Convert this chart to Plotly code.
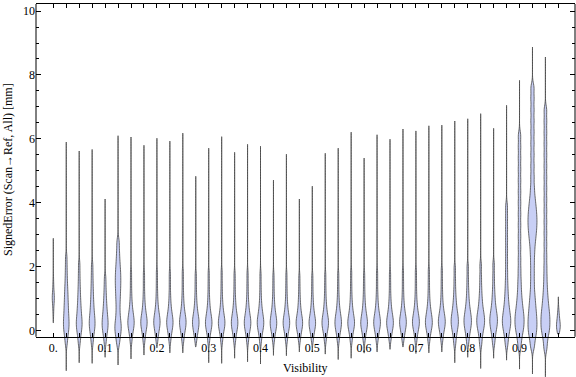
import plotly.graph_objects as go

# Visibility bins (category positions)
visibility = [0.0, 0.025, 0.05, 0.075, 0.1, 0.125, 0.15, 0.175, 0.2, 0.225,
              0.25, 0.275, 0.3, 0.325, 0.35, 0.375, 0.4, 0.425, 0.45, 0.475,
              0.5, 0.525, 0.55, 0.575, 0.6, 0.625, 0.65, 0.675, 0.7, 0.725,
              0.75, 0.775, 0.8, 0.825, 0.85, 0.875, 0.9, 0.925, 0.95, 0.975]

x_tick_vals = [0.0, 0.1, 0.2, 0.3, 0.4, 0.5, 0.6, 0.7, 0.8, 0.9]
x_tick_text = ["0.", "0.1", "0.2", "0.3", "0.4", "0.5", "0.6", "0.7", "0.8", "0.9"]
y_tick_vals = [0, 2, 4, 6, 8, 10]

# Smallest / largest signed error per bin [mm] (violin tips)
err_min = [0.25, -1.25, -1.0, -1.02, -0.83, -1.07, -0.88, -0.76, -0.53, -0.69,
           -0.69, -0.5, -1.0, -1.02, -0.86, -0.97, -1.04, -0.77, -0.78, -0.66,
           -0.66, -0.73, -0.9, -0.86, -0.7, -0.66, -0.58, -0.5, -0.71, -0.69,
           -0.66, -1.0, -0.83, -1.18, -0.86, -0.92, -1.2, -1.35, -1.44, -0.1]
err_max = [2.89, 5.9, 5.62, 5.67, 4.12, 6.1, 6.06, 5.8, 6.02, 5.93,
           6.18, 4.83, 5.71, 6.07, 5.58, 5.83, 5.77, 4.71, 5.52, 4.12,
           4.52, 5.55, 5.71, 6.21, 5.4, 6.13, 5.99, 6.31, 6.25, 6.41,
           6.43, 6.56, 6.63, 6.79, 6.33, 7.05, 7.83, 8.87, 8.56, 1.06]

# Relative sample count per bin (sets violin width)
rel_count = [0.22, 0.6, 0.62, 0.62, 0.64, 0.68, 0.68, 0.68, 0.68, 0.68,
             0.7, 0.7, 0.7, 0.7, 0.7, 0.7, 0.7, 0.7, 0.7, 0.7,
             0.7, 0.7, 0.7, 0.72, 0.72, 0.72, 0.72, 0.72, 0.74, 0.74,
             0.74, 0.78, 0.8, 0.84, 0.82, 0.9, 0.98, 0.96, 0.96, 0.4]

# Body of each distribution (quantile sketch) [mm]
v00 = [0.5, 0.72, 0.86, 0.95, 1.01, 1.06, 1.12, 1.22, 1.38, 1.6]
v01 = [-0.4, -0.2, -0.07, 0.03, 0.12, 0.2, 0.28, 0.37, 0.46, 0.56, 0.67, 0.78, 0.9, 1.03, 1.17, 1.32, 1.5, 1.72, 1.98, 2.28]
v02 = [-0.4, -0.2, -0.07, 0.03, 0.11, 0.18, 0.25, 0.32, 0.4, 0.49, 0.59, 0.7, 0.82, 0.96, 1.12, 1.3, 1.52, 1.78, 2.08]
v03 = [-0.4, -0.2, -0.07, 0.03, 0.11, 0.18, 0.25, 0.32, 0.4, 0.48, 0.58, 0.69, 0.81, 0.95, 1.11, 1.29, 1.5, 1.75, 2.04]
v04 = [-0.38, -0.19, -0.06, 0.03, 0.11, 0.18, 0.25, 0.32, 0.4, 0.49, 0.59, 0.7, 0.83, 0.98, 1.16, 1.38, 1.65]
v05 = [-0.4, -0.2, -0.06, 0.05, 0.15, 0.26, 0.4, 0.57, 0.76, 0.94, 1.1, 1.25, 1.39, 1.52, 1.65, 1.78, 1.92, 2.08, 2.27, 2.5, 2.78]
v06 = [-0.36, -0.18, -0.06, 0.03, 0.1, 0.16, 0.21, 0.26, 0.31, 0.37, 0.43, 0.5, 0.58, 0.68, 0.81, 0.98, 1.21, 1.5, 1.82]
v07 = [-0.35, -0.18, -0.06, 0.03, 0.1, 0.16, 0.21, 0.26, 0.31, 0.36, 0.42, 0.49, 0.57, 0.67, 0.8, 0.97, 1.2, 1.5, 1.8]
v08 = [-0.32, -0.16, -0.05, 0.04, 0.11, 0.17, 0.22, 0.27, 0.32, 0.37, 0.43, 0.5, 0.58, 0.68, 0.81, 0.98, 1.21, 1.5, 1.82]
v09 = [-0.34, -0.17, -0.06, 0.03, 0.1, 0.16, 0.21, 0.26, 0.31, 0.36, 0.42, 0.49, 0.57, 0.67, 0.8, 0.97, 1.2, 1.5, 1.8]
v10 = [-0.34, -0.17, -0.06, 0.03, 0.1, 0.16, 0.21, 0.26, 0.31, 0.36, 0.42, 0.49, 0.57, 0.67, 0.8, 0.97, 1.2, 1.5, 1.82]
v11 = [-0.3, -0.15, -0.05, 0.03, 0.1, 0.16, 0.21, 0.26, 0.31, 0.36, 0.42, 0.49, 0.57, 0.67, 0.8, 0.96, 1.18, 1.45, 1.75]
v12 = [-0.36, -0.18, -0.06, 0.03, 0.1, 0.15, 0.2, 0.25, 0.3, 0.35, 0.41, 0.48, 0.56, 0.66, 0.79, 0.96, 1.19, 1.48, 1.8]
v13 = [-0.36, -0.18, -0.06, 0.03, 0.1, 0.15, 0.2, 0.25, 0.3, 0.35, 0.41, 0.48, 0.56, 0.66, 0.79, 0.96, 1.19, 1.48, 1.82]
v14 = [-0.35, -0.18, -0.06, 0.02, 0.09, 0.15, 0.2, 0.25, 0.3, 0.35, 0.41, 0.48, 0.56, 0.66, 0.79, 0.95, 1.17, 1.45, 1.76]
v15 = [-0.36, -0.18, -0.06, 0.02, 0.09, 0.15, 0.2, 0.25, 0.3, 0.35, 0.41, 0.48, 0.56, 0.66, 0.79, 0.95, 1.18, 1.46, 1.78]
v16 = [-0.36, -0.18, -0.06, 0.02, 0.09, 0.15, 0.2, 0.25, 0.3, 0.35, 0.41, 0.48, 0.56, 0.65, 0.78, 0.94, 1.16, 1.44, 1.76]
v17 = [-0.33, -0.17, -0.05, 0.03, 0.1, 0.15, 0.2, 0.25, 0.3, 0.35, 0.41, 0.48, 0.56, 0.65, 0.78, 0.94, 1.15, 1.42, 1.72]
v18 = [-0.33, -0.17, -0.05, 0.03, 0.1, 0.15, 0.2, 0.25, 0.3, 0.35, 0.4, 0.47, 0.55, 0.65, 0.77, 0.93, 1.15, 1.42, 1.74]
v19 = [-0.31, -0.16, -0.05, 0.03, 0.1, 0.15, 0.2, 0.24, 0.29, 0.34, 0.4, 0.46, 0.54, 0.64, 0.76, 0.92, 1.12, 1.38, 1.68]
v20 = [-0.31, -0.16, -0.05, 0.03, 0.1, 0.15, 0.2, 0.24, 0.29, 0.34, 0.4, 0.46, 0.54, 0.64, 0.76, 0.92, 1.13, 1.4, 1.7]
v21 = [-0.33, -0.17, -0.05, 0.03, 0.1, 0.15, 0.2, 0.25, 0.3, 0.35, 0.4, 0.47, 0.55, 0.65, 0.77, 0.93, 1.15, 1.42, 1.74]
v22 = [-0.35, -0.18, -0.06, 0.02, 0.09, 0.15, 0.2, 0.25, 0.3, 0.35, 0.41, 0.48, 0.56, 0.65, 0.78, 0.94, 1.16, 1.44, 1.76]
v23 = [-0.35, -0.18, -0.06, 0.03, 0.1, 0.15, 0.2, 0.25, 0.3, 0.35, 0.41, 0.48, 0.56, 0.66, 0.79, 0.96, 1.19, 1.48, 1.82]
v24 = [-0.33, -0.17, -0.05, 0.03, 0.1, 0.15, 0.2, 0.25, 0.3, 0.35, 0.41, 0.48, 0.56, 0.66, 0.79, 0.95, 1.17, 1.45, 1.76]
v25 = [-0.32, -0.16, -0.05, 0.04, 0.11, 0.16, 0.21, 0.26, 0.31, 0.36, 0.42, 0.49, 0.57, 0.67, 0.8, 0.97, 1.2, 1.5, 1.82]
v26 = [-0.3, -0.15, -0.04, 0.04, 0.11, 0.16, 0.21, 0.26, 0.31, 0.36, 0.42, 0.49, 0.57, 0.67, 0.8, 0.97, 1.2, 1.49, 1.8]
v27 = [-0.29, -0.14, -0.04, 0.05, 0.12, 0.17, 0.22, 0.27, 0.32, 0.37, 0.43, 0.5, 0.58, 0.68, 0.81, 0.98, 1.22, 1.52, 1.85]
v28 = [-0.33, -0.16, -0.04, 0.05, 0.12, 0.17, 0.22, 0.27, 0.32, 0.37, 0.43, 0.5, 0.58, 0.68, 0.81, 0.98, 1.22, 1.52, 1.85]
v29 = [-0.33, -0.16, -0.04, 0.05, 0.12, 0.17, 0.22, 0.27, 0.32, 0.38, 0.44, 0.51, 0.59, 0.69, 0.82, 0.99, 1.23, 1.53, 1.87]
v30 = [-0.32, -0.15, -0.03, 0.05, 0.12, 0.18, 0.23, 0.28, 0.33, 0.38, 0.44, 0.51, 0.59, 0.69, 0.82, 1.0, 1.24, 1.54, 1.88]
v31 = [-0.42, -0.22, -0.08, 0.02, 0.1, 0.17, 0.23, 0.29, 0.35, 0.41, 0.48, 0.56, 0.65, 0.76, 0.9, 1.07, 1.3, 1.6, 1.95]
v32 = [-0.39, -0.2, -0.07, 0.03, 0.11, 0.18, 0.24, 0.3, 0.36, 0.42, 0.49, 0.57, 0.66, 0.77, 0.91, 1.09, 1.32, 1.62, 1.98]
v33 = [-0.44, -0.23, -0.08, 0.03, 0.11, 0.18, 0.25, 0.31, 0.37, 0.44, 0.51, 0.59, 0.69, 0.81, 0.96, 1.14, 1.38, 1.68, 2.04]
v34 = [-0.4, -0.21, -0.07, 0.04, 0.12, 0.19, 0.26, 0.32, 0.38, 0.45, 0.52, 0.6, 0.7, 0.82, 0.97, 1.15, 1.39, 1.7, 2.06]
v35 = [-0.45, -0.24, -0.09, 0.02, 0.11, 0.19, 0.26, 0.33, 0.4, 0.48, 0.57, 0.67, 0.79, 0.93, 1.1, 1.3, 1.55, 1.85,
       2.18, 2.52, 2.86, 3.2, 3.54, 3.88]
v36 = [-0.5, -0.26, -0.1, 0.02, 0.12, 0.21, 0.3, 0.39, 0.48, 0.58, 0.69, 0.82, 0.97, 1.15, 1.37, 1.62, 1.92,
       2.25, 2.6, 2.95, 3.3, 3.65, 4.0, 4.35, 4.7, 5.05, 5.4, 5.75, 6.1]
v37 = [-0.5, -0.26, -0.1, 0.03, 0.15, 0.27, 0.39, 0.52, 0.66, 0.82, 1.0, 1.22, 1.5, 1.8, 2.1, 2.38, 2.62,
       2.82, 2.98, 3.12, 3.25, 3.37, 3.49, 3.61, 3.74, 3.88, 4.04, 4.24, 4.5, 4.82, 5.16, 5.51, 5.86,
       6.21, 6.56, 6.91, 7.26, 7.6]
v38 = [-0.55, -0.3, -0.12, 0.0, 0.1, 0.2, 0.3, 0.4, 0.5, 0.61, 0.73, 0.87, 1.03, 1.22, 1.45, 1.72, 2.02,
       2.35, 2.7, 3.05, 3.4, 3.75, 4.1, 4.45, 4.8, 5.15, 5.5, 5.85, 6.2, 6.55, 6.9]
v39 = [-0.03, 0.04, 0.09, 0.13, 0.17, 0.22, 0.29, 0.38, 0.5, 0.65]

samples = [v00, v01, v02, v03, v04, v05, v06, v07, v08, v09,
           v10, v11, v12, v13, v14, v15, v16, v17, v18, v19,
           v20, v21, v22, v23, v24, v25, v26, v27, v28, v29,
           v30, v31, v32, v33, v34, v35, v36, v37, v38, v39]

FILL = "rgb(200,207,245)"
EDGE = "rgba(70,70,70,0.8)"
FONT = "Liberation Serif"
BASE_WIDTH = 0.018  # full violin width in x data units at rel_count = 1

X_RANGE = [-0.0334, 1.0071]
Y_RANGE = [-1.447, 10.22]
AXIS_Y = -0.19

fig = go.Figure()
for xv, s, lo, hi, rc in zip(visibility, samples, err_min, err_max, rel_count):
    fig.add_trace(go.Violin(
        x=[xv] * len(s), y=s,
        width=BASE_WIDTH * rc,
        spanmode="manual", span=[lo, hi],
        bandwidth=0.15,
        points=False,
        fillcolor=FILL,
        line=dict(color=EDGE, width=1),
        box_visible=False, meanline_visible=False,
        showlegend=False, hoverinfo="skip",
        xaxis="x", yaxis="y",
    ))

minor_y = [v / 2 for v in range(0, 21) if v % 4 != 0]

fig.update_layout(
    width=576, height=377,
    margin=dict(l=36, r=1, t=4, b=0),
    paper_bgcolor="white", plot_bgcolor="white",
    violinmode="overlay",
    font=dict(family=FONT, size=12, color="black"),
    xaxis=dict(
        range=X_RANGE, anchor="free", position=(377 - 336.7) / 373,
        tickvals=x_tick_vals, ticktext=x_tick_text,
        ticks="inside", ticklen=4, tickwidth=1, tickcolor="black",
        minor=dict(tickvals=visibility, ticks="inside", ticklen=4, tickcolor="black"),
        showline=True, linecolor="black", linewidth=1,
        showgrid=False, zeroline=False,
        tickfont=dict(family=FONT, size=12),
    ),
    xaxis2=dict(
        range=X_RANGE, overlaying="x", side="top", anchor="y",
        tickvals=visibility, showticklabels=False,
        ticks="inside", ticklen=4, tickcolor="black",
        showline=True, linecolor="black", linewidth=1,
        showgrid=False, zeroline=False,
    ),
    yaxis=dict(
        range=Y_RANGE, tickvals=y_tick_vals, ticktext=[str(v) for v in y_tick_vals],
        ticks="inside", ticklen=5, tickcolor="black",
        minor=dict(tickvals=minor_y, ticks="inside", ticklen=3, tickcolor="black"),
        showline=False, showgrid=False, zeroline=False,
        tickfont=dict(family=FONT, size=12),
    ),
    yaxis2=dict(
        range=Y_RANGE, overlaying="y", side="right", anchor="x",
        tickvals=y_tick_vals, showticklabels=False,
        ticks="inside", ticklen=5, tickcolor="black",
        minor=dict(tickvals=minor_y, ticks="inside", ticklen=3, tickcolor="black"),
        showline=False, showgrid=False, zeroline=False,
    ),
    shapes=[
        dict(type="line", xref="paper", yref="y", x0=0, x1=0, y0=AXIS_Y, y1=Y_RANGE[1],
             line=dict(color="black", width=1)),
        dict(type="line", xref="paper", yref="y", x0=1, x1=1, y0=AXIS_Y, y1=Y_RANGE[1],
             line=dict(color="black", width=1)),
    ],
    annotations=[
        dict(text="SignedError (Scan→Ref, All) [mm]", xref="paper", yref="paper",
             x=-28 / 539, y=(377 - 170) / 373, textangle=-90,
             showarrow=False, font=dict(family=FONT, size=12), xanchor="center", yanchor="middle"),
        dict(text="Visibility", xref="paper", yref="paper",
             x=0.5, y=(377 - 368) / 373, showarrow=False,
             font=dict(family=FONT, size=12), xanchor="center", yanchor="middle"),
    ],
)
# dummy trace so the secondary axes render
fig.add_trace(go.Scatter(x=[None], y=[None], xaxis="x2", yaxis="y2", showlegend=False, hoverinfo="skip"))

fig.write_html("out.html", config={"displayModeBar": False},
               post_script="document.body.style.margin='0px';")
